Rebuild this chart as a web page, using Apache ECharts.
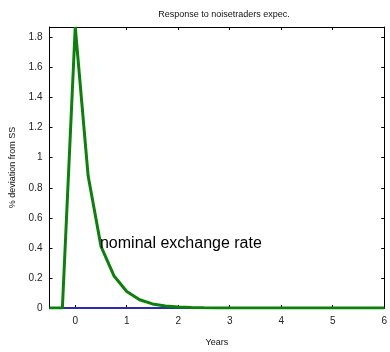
<!DOCTYPE html>
<html><head><meta charset="utf-8">
<script src="https://cdn.jsdelivr.net/npm/echarts@6/dist/echarts.min.js"></script>
<style>html,body{margin:0;padding:0;background:#fff}#c{width:390px;height:352px}</style>
</head><body><div id="c"></div>
<script>
var years = [-0.5,-0.25,0,0.25,0.5,0.75,1,1.25,1.5,1.75,2,2.25,2.5,2.75,3,3.25,3.5,3.75,4,4.25,4.5,4.75,5,5.25,5.5,5.75,6];
var exchangeRate = [0,0,1.87,0.88,0.41,0.215,0.11,0.055,0.027,0.013,0.006,0.003,0.001,0,0,0,0,0,0,0,0,0,0,0,0,0,0];
var baseline = [0,0,0,0,0,0,0,0,0,0,0,0,0,0,0,0,0,0,0,0,0,0,0,0,0,0,0];
var xTicks = [0,1,2,3,4,5,6];
var yTicks = [0,0.2,0.4,0.6,0.8,1,1.2,1.4,1.6,1.8];
var labelText = 'nominal exchange rate';
var labelAt = [0.48, 0.43];

function pairs(ys){return years.map(function(x,i){return [x, ys[i]];});}
var chart = echarts.init(document.getElementById('c'));
var fontF = '"Liberation Sans", Arial, sans-serif';
var lineStyle = {color:'#000', width:1};
var tick = {inside:true, length:3, lineStyle:{color:'#000'}};
chart.setOption({
  animation:false,
  title:{text:'Response to noisetraders expec.', left:219, top:5, textAlign:'center',
    textStyle:{fontSize:9, fontWeight:'normal', color:'#111', fontFamily:fontF}},
  grid:{left:49.5, right:2, top:27, bottom:44},
  xAxis:[{type:'value', min:-0.5, max:6, position:'bottom',
      name:'Years', nameLocation:'middle', nameGap:30,
      nameTextStyle:{fontSize:9, color:'#111', fontFamily:fontF},
      axisLine:{onZero:false, lineStyle:lineStyle}, splitLine:{show:false},
      axisTick:Object.assign({customValues:xTicks}, tick),
      axisLabel:{customValues:xTicks, fontSize:10, color:'#222', fontFamily:fontF, margin:8}},
    {type:'value', min:-0.5, max:6, position:'top',
      axisLine:{onZero:false, lineStyle:lineStyle}, splitLine:{show:false},
      axisTick:Object.assign({customValues:xTicks}, tick),
      axisLabel:{show:false}}],
  yAxis:[{type:'value', min:0, max:1.87, position:'left',
      name:'% deviation from SS', nameLocation:'middle', nameGap:32,
      nameTextStyle:{fontSize:9, color:'#111', fontFamily:fontF},
      axisLine:{show:true, onZero:false, lineStyle:lineStyle}, splitLine:{show:false},
      axisTick:Object.assign({customValues:yTicks}, tick),
      axisLabel:{customValues:yTicks, fontSize:10, color:'#222', fontFamily:fontF, margin:7,
        formatter:function(v){return String(Math.round(v*10)/10);}}},
    {type:'value', min:0, max:1.87, position:'right',
      axisLine:{show:true, onZero:false, lineStyle:lineStyle}, splitLine:{show:false},
      axisTick:Object.assign({customValues:yTicks}, tick),
      axisLabel:{show:false}}],
  series:[
    {type:'line', data:pairs(baseline), showSymbol:false, symbol:'none', z:2,
      lineStyle:{color:'#2a2ab8', width:2}},
    {type:'line', data:pairs(exchangeRate), showSymbol:false, symbol:'none', z:3,
      lineStyle:{color:'#0a820a', width:3}}
  ]
});
var p = chart.convertToPixel({xAxisIndex:0, yAxisIndex:0}, labelAt);
chart.setOption({graphic:[{type:'text', x:p[0], y:p[1], z:10,
  style:{text:labelText, fontSize:16, fill:'#000', fontFamily:fontF, verticalAlign:'middle', align:'left'}}]});
</script></body></html>
